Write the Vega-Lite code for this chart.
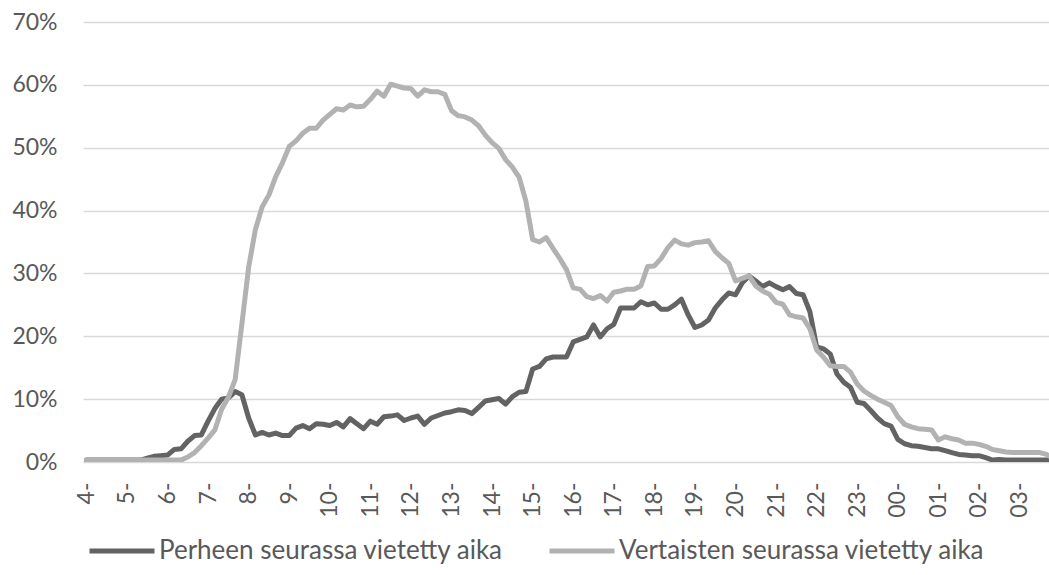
{
  "$schema": "https://vega.github.io/schema/vega-lite/v6.json",
  "width": 966,
  "height": 440,
  "autosize": {"type": "none"},
  "padding": {"left": 83, "top": 22, "right": 0, "bottom": 113},
  "background": "white",
  "config": {"view": {"stroke": null}, "font": "Lato"},
  "data": {"values": [
    {"m":0,"p":0.3,"v":0.3},{"m":10,"p":0.3,"v":0.3},{"m":20,"p":0.3,"v":0.3},{"m":30,"p":0.3,"v":0.3},{"m":40,"p":0.3,"v":0.3},{"m":50,"p":0.3,"v":0.3},
    {"m":60,"p":0.3,"v":0.3},{"m":70,"p":0.3,"v":0.3},{"m":80,"p":0.3,"v":0.3},{"m":90,"p":0.6,"v":0.3},{"m":100,"p":0.9,"v":0.3},{"m":110,"p":1.0,"v":0.3},
    {"m":120,"p":1.1,"v":0.3},{"m":130,"p":2.0,"v":0.3},{"m":140,"p":2.1,"v":0.3},{"m":150,"p":3.3,"v":0.8},{"m":160,"p":4.2,"v":1.5},{"m":170,"p":4.3,"v":2.6},
    {"m":180,"p":6.5,"v":3.8},{"m":190,"p":8.5,"v":5.1},{"m":200,"p":10.0,"v":8.4},{"m":210,"p":10.2,"v":10.3},{"m":220,"p":11.2,"v":13.1},{"m":230,"p":10.7,"v":22.0},
    {"m":240,"p":7.0,"v":31.0},{"m":250,"p":4.3,"v":37.0},{"m":260,"p":4.7,"v":40.6},{"m":270,"p":4.3,"v":42.5},{"m":280,"p":4.6,"v":45.4},{"m":290,"p":4.2,"v":47.6},
    {"m":300,"p":4.2,"v":50.2},{"m":310,"p":5.4,"v":51.1},{"m":320,"p":5.8,"v":52.3},{"m":330,"p":5.3,"v":53.1},{"m":340,"p":6.1,"v":53.1},{"m":350,"p":6.0,"v":54.4},
    {"m":360,"p":5.8,"v":55.3},{"m":370,"p":6.3,"v":56.2},{"m":380,"p":5.6,"v":56.0},{"m":390,"p":6.9,"v":56.8},{"m":400,"p":6.1,"v":56.5},{"m":410,"p":5.3,"v":56.6},
    {"m":420,"p":6.5,"v":57.7},{"m":430,"p":6.0,"v":59.0},{"m":440,"p":7.2,"v":58.2},{"m":450,"p":7.3,"v":60.1},{"m":460,"p":7.5,"v":59.8},{"m":470,"p":6.6,"v":59.5},
    {"m":480,"p":7.0,"v":59.4},{"m":490,"p":7.3,"v":58.2},{"m":500,"p":6.0,"v":59.2},{"m":510,"p":7.0,"v":58.9},{"m":520,"p":7.4,"v":58.9},{"m":530,"p":7.8,"v":58.5},
    {"m":540,"p":8.0,"v":55.9},{"m":550,"p":8.3,"v":55.1},{"m":560,"p":8.2,"v":54.9},{"m":570,"p":7.7,"v":54.4},{"m":580,"p":8.7,"v":53.5},{"m":590,"p":9.7,"v":52.0},
    {"m":600,"p":9.9,"v":50.8},{"m":610,"p":10.1,"v":49.9},{"m":620,"p":9.2,"v":48.1},{"m":630,"p":10.4,"v":46.9},{"m":640,"p":11.1,"v":45.3},{"m":650,"p":11.2,"v":41.5},
    {"m":660,"p":14.8,"v":35.4},{"m":670,"p":15.2,"v":35.0},{"m":680,"p":16.4,"v":35.7},{"m":690,"p":16.7,"v":34.0},{"m":700,"p":16.7,"v":32.4},{"m":710,"p":16.7,"v":30.6},
    {"m":720,"p":19.1,"v":27.7},{"m":730,"p":19.5,"v":27.5},{"m":740,"p":19.9,"v":26.3},{"m":750,"p":21.8,"v":26.0},{"m":760,"p":19.9,"v":26.5},{"m":770,"p":21.2,"v":25.6},
    {"m":780,"p":21.9,"v":27.0},{"m":790,"p":24.5,"v":27.2},{"m":800,"p":24.5,"v":27.5},{"m":810,"p":24.5,"v":27.5},{"m":820,"p":25.5,"v":28.0},{"m":830,"p":25.0,"v":31.1},
    {"m":840,"p":25.3,"v":31.2},{"m":850,"p":24.3,"v":32.4},{"m":860,"p":24.3,"v":34.1},{"m":870,"p":25.0,"v":35.3},{"m":880,"p":25.9,"v":34.7},{"m":890,"p":23.4,"v":34.5},
    {"m":900,"p":21.4,"v":34.9},{"m":910,"p":21.8,"v":35.0},{"m":920,"p":22.6,"v":35.2},{"m":930,"p":24.5,"v":33.5},{"m":940,"p":25.8,"v":32.5},{"m":950,"p":26.9,"v":31.6},
    {"m":960,"p":26.6,"v":28.8},{"m":970,"p":28.5,"v":29.2},{"m":980,"p":29.6,"v":29.6},{"m":990,"p":28.8,"v":28.0},{"m":1000,"p":27.9,"v":27.2},{"m":1010,"p":28.5,"v":26.7},
    {"m":1020,"p":27.9,"v":25.4},{"m":1030,"p":27.4,"v":25.1},{"m":1040,"p":27.9,"v":23.4},{"m":1050,"p":26.8,"v":23.1},{"m":1060,"p":26.6,"v":22.9},{"m":1070,"p":23.9,"v":21.2},
    {"m":1080,"p":18.3,"v":17.8},{"m":1090,"p":18.0,"v":16.7},{"m":1100,"p":17.2,"v":15.3},{"m":1110,"p":14.0,"v":15.2},{"m":1120,"p":12.7,"v":15.2},{"m":1130,"p":11.9,"v":14.3},
    {"m":1140,"p":9.5,"v":12.4},{"m":1150,"p":9.3,"v":11.3},{"m":1160,"p":8.2,"v":10.6},{"m":1170,"p":7.0,"v":10.0},{"m":1180,"p":6.1,"v":9.5},{"m":1190,"p":5.7,"v":9.0},
    {"m":1200,"p":3.6,"v":7.2},{"m":1210,"p":2.9,"v":6.0},{"m":1220,"p":2.6,"v":5.6},{"m":1230,"p":2.5,"v":5.3},{"m":1240,"p":2.3,"v":5.2},{"m":1250,"p":2.1,"v":5.1},
    {"m":1260,"p":2.1,"v":3.5},{"m":1270,"p":1.8,"v":4.0},{"m":1280,"p":1.5,"v":3.7},{"m":1290,"p":1.2,"v":3.5},{"m":1300,"p":1.1,"v":3.0},{"m":1310,"p":1.0,"v":3.0},
    {"m":1320,"p":1.0,"v":2.8},{"m":1330,"p":0.7,"v":2.5},{"m":1340,"p":0.3,"v":2.0},{"m":1350,"p":0.4,"v":1.8},{"m":1360,"p":0.3,"v":1.6},{"m":1370,"p":0.3,"v":1.5},
    {"m":1380,"p":0.3,"v":1.5},{"m":1390,"p":0.3,"v":1.5},{"m":1400,"p":0.3,"v":1.5},{"m":1410,"p":0.3,"v":1.5},{"m":1420,"p":0.3,"v":1.2},{"m":1430,"p":0.3,"v":0.6}
  ]},
  "encoding": {
    "x": {
      "field": "m", "type": "quantitative",
      "scale": {"domain": [-5, 1423.6], "nice": false, "zero": false},
      "axis": {
        "title": null, "values": [0,60,120,180,240,300,360,420,480,540,600,660,720,780,840,900,960,1020,1080,1140,1200,1260,1320,1380],
        "labelExpr": "((floor(datum.value/60)+4)%24) < 4 ? '0' + ((floor(datum.value/60)+4)%24) + '-' : ((floor(datum.value/60)+4)%24) + '-'",
        "labelAngle": -90, "labelPadding": 20, "ticks": false, "tickSize": 0, "domain": false, "grid": false,
        "labelFontSize": 23, "labelColor": "#595959", "labelFont": "Lato", "labelOverlap": false, "labelFlush": false, "labelBound": false
      }
    }
  },
  "layer": [
    {
      "mark": {"type": "line", "strokeWidth": 5, "strokeCap": "round", "strokeJoin": "round", "clip": true},
      "encoding": {
        "y": {
          "field": "p", "type": "quantitative",
          "scale": {"domain": [0, 70], "nice": false, "zero": true},
          "axis": {
            "title": null, "values": [0,10,20,30,40,50,60,70], "labelExpr": "datum.value + '%'",
            "grid": true, "gridColor": "#d9d9d9", "gridWidth": 1.5, "domain": false, "ticks": false, "tickSize": 0,
            "labelPadding": 26, "labelFontSize": 23, "labelColor": "#595959", "labelFont": "Lato"
          }
        },
        "color": {
          "datum": "Perheen seurassa vietetty aika",
          "scale": {"domain": ["Perheen seurassa vietetty aika", "Vertaisten seurassa vietetty aika"], "range": ["#636363", "#b2b2b2"]},
          "legend": {
            "orient": "none", "legendX": 4, "legendY": 494, "direction": "horizontal", "title": null,
            "symbolType": "stroke", "symbolSize": 4225, "symbolStrokeWidth": 5,
            "labelFontSize": 26, "labelColor": "#595959", "labelFont": "Lato", "labelOffset": 2, "columnPadding": 35, "labelLimit": 0
          }
        }
      }
    },
    {
      "mark": {"type": "line", "strokeWidth": 5, "strokeCap": "round", "strokeJoin": "round", "clip": true},
      "encoding": {
        "y": {"field": "v", "type": "quantitative"},
        "color": {"datum": "Vertaisten seurassa vietetty aika"}
      }
    }
  ]
}
